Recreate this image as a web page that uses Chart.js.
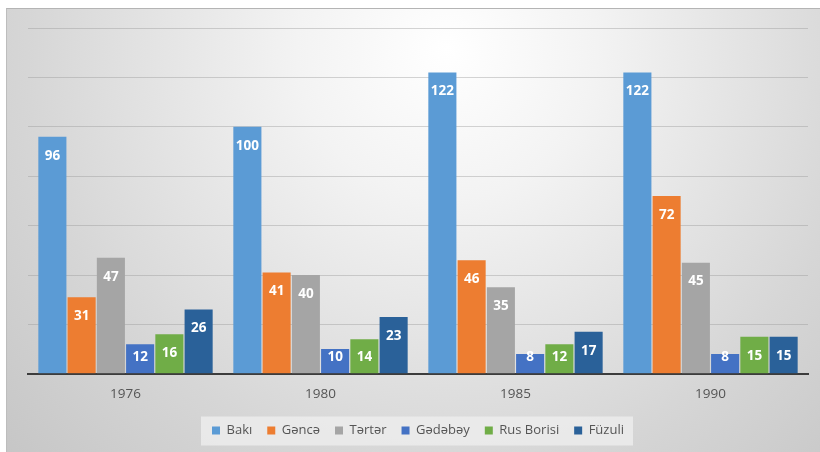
<!DOCTYPE html>
<html>
<head>
<meta charset="utf-8">
<script src="https://cdn.jsdelivr.net/npm/chart.js@4"></script>
<style>
  body { margin: 0; background: #fff; }
  #box { position: absolute; left: 6px; top: 8px; width: 814px; height: 444px;
         border-top: 1px solid #b4b4b4; border-left: 1px solid #bdbdbd; }
  #chart { display: block; }
</style>
</head>
<body>
<div id="box"><canvas id="chart" width="814" height="444"></canvas></div>
<script>
// categories and series
const years = ['1976', '1980', '1985', '1990'];
const seriesNames = ['Bakı', 'Gəncə', 'Tərtər', 'Gədəbəy', 'Rus Borisi', 'Füzuli'];
const baki = [96, 100, 122, 122];
const gence = [31, 41, 46, 72];
const terter = [47, 40, 35, 45];
const gedebey = [12, 10, 8, 8];
const rusBorisi = [16, 14, 12, 15];
const fuzuli = [26, 23, 17, 15];
const seriesColors = ['#5B9BD5', '#ED7D31', '#A5A5A5', '#4472C4', '#70AD47', '#2A6199'];

const FONT = '"Open Sans", "DejaVu Sans", sans-serif';

// gradient backdrop + grey box behind the legend
const backdrop = {
    id: 'backdrop',
    beforeDraw(chart) {
        const ctx = chart.ctx;
        const w = chart.width, h = chart.height;
        const g = ctx.createRadialGradient(440, 40, 0, 440, 40, 600);
        g.addColorStop(0, '#ffffff');
        g.addColorStop(0.25, '#f3f3f3');
        g.addColorStop(0.7, '#d6d6d6');
        g.addColorStop(1, '#c6c6c6');
        ctx.save();
        ctx.fillStyle = g;
        ctx.fillRect(0, 0, w, h);
        const boxes = chart.legend.legendHitBoxes;
        if (boxes && boxes.length) {
            const left = Math.min(...boxes.map(b => b.left)) - 11;
            const last = boxes[boxes.length - 1];
            const right = last.left + last.width + 9;
            const mid = boxes[0].top + boxes[0].height / 2;
            ctx.fillStyle = 'rgba(236,236,236,0.85)';
            ctx.fillRect(left, mid - 14, right - left, 29);
        }
        ctx.restore();
    }
};

// white value labels near the top of each bar
const valueLabels = {
    id: 'valueLabels',
    afterDatasetsDraw(chart) {
        const ctx = chart.ctx;
        ctx.save();
        ctx.font = 'bold 13.5px ' + FONT;
        ctx.fillStyle = '#ffffff';
        ctx.textAlign = 'center';
        ctx.textBaseline = 'middle';
        chart.data.datasets.forEach((ds, i) => {
            chart.getDatasetMeta(i).data.forEach((bar, j) => {
                const y = Math.min(bar.y + 19, bar.base - 16);
                ctx.fillText(String(ds.data[j]), bar.x, y);
            });
        });
        ctx.restore();
    }
};

const allData = [baki, gence, terter, gedebey, rusBorisi, fuzuli];
const datasets = seriesNames.map((name, i) => ({
    label: name,
    data: allData[i],
    backgroundColor: seriesColors[i],
    borderWidth: 0,
    barPercentage: 0.96,
    categoryPercentage: 0.9
}));

new Chart(document.getElementById('chart'), {
    type: 'bar',
    data: { labels: years, datasets: datasets },
    plugins: [backdrop, valueLabels],
    options: {
        responsive: false,
        animation: false,
        layout: { padding: { left: 21, right: 13, top: 19, bottom: 6 } },
        plugins: {
            tooltip: { enabled: false },
            legend: {
                position: 'bottom',
                labels: {
                    boxWidth: 8,
                    boxHeight: 8,
                    padding: 15,
                    color: '#555555',
                    font: { family: FONT, size: 13 }
                }
            }
        },
        scales: {
            x: {
                grid: { display: false, drawTicks: false },
                border: { display: true, color: '#3c3c3c', width: 2 },
                ticks: { color: '#555555', padding: 12, font: { family: FONT, size: 13.5 } },
                afterFit(scale) { scale.height -= 5; }
            },
            y: {
                min: 0,
                max: 140,
                ticks: { display: false, stepSize: 20 },
                border: { display: false },
                grid: { color: 'rgba(150,150,150,0.4)', lineWidth: 1, drawTicks: false }
            }
        }
    }
});
</script>
</body>
</html>
